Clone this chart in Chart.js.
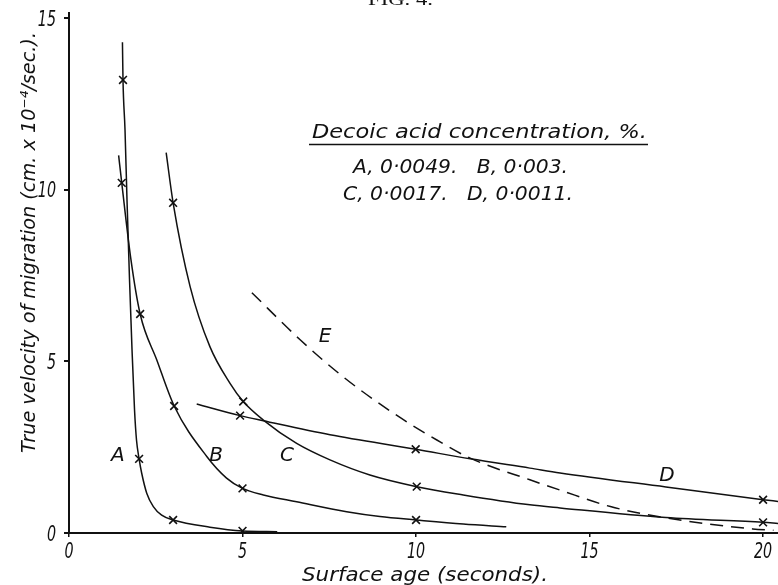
<!DOCTYPE html>
<html>
<head>
<meta charset="utf-8">
<script src="https://cdn.jsdelivr.net/npm/chart.js@4.4.1/dist/chart.umd.min.js"></script>
<style>
  html, body { margin: 0; padding: 0; background: #fff; }
  #miGrafico { display: block; }
</style>
</head>
<body>
<canvas id="miGrafico" width="778" height="585"></canvas>
<script>
// Curvas: edad de superficie (s) -> velocidad (cm x 10^-4/s)
const curveAX = [1.54, 1.556, 1.614, 1.671, 1.744, 1.816, 1.888, 1.945, 2.02, 2.095, 2.24, 2.43, 2.67, 3.0, 4.06, 5.0, 6.0];
const curveAY = [14.3, 13.2, 11.75, 9.71, 7.38, 5.34, 3.59, 2.71, 2.16, 1.74, 1.16, 0.77, 0.52, 0.38, 0.17, 0.06, 0.04];
const curveBX = [1.43, 1.52, 1.78, 2.05, 2.53, 3.03, 3.97, 4.54, 5.0, 5.6, 6.56, 8.0, 8.96, 10.0, 11.36, 12.6];
const curveBY = [11.0, 10.2, 8.0, 6.38, 5.04, 3.7, 2.23, 1.6, 1.3, 1.11, 0.91, 0.62, 0.48, 0.38, 0.26, 0.18];
const curveCX = [2.8, 3.0, 3.49, 4.06, 4.64, 5.02, 5.6, 6.56, 7.52, 8.67, 10.02, 11.36, 13.28, 14.15, 17.2, 20.0, 20.43];
const curveCY = [11.08, 9.62, 7.18, 5.43, 4.36, 3.83, 3.29, 2.61, 2.13, 1.69, 1.35, 1.11, 0.82, 0.73, 0.45, 0.31, 0.28];
const curveDX = [3.68, 4.93, 5.6, 7.52, 9.99, 11.56, 13.28, 14.15, 17.2, 20.0, 20.43];
const curveDY = [3.76, 3.42, 3.27, 2.86, 2.44, 2.16, 1.89, 1.75, 1.34, 0.97, 0.92];
const curveEX = [5.27, 6.66, 7.9, 9.35, 10.6, 11.56, 13.28, 14.15, 15.6, 17.2, 19.7, 20.3];
const curveEY = [7.0, 5.63, 4.55, 3.49, 2.71, 2.18, 1.55, 1.25, 0.77, 0.44, 0.12, 0.08];

// Puntos medidos (cruces)
const markAX = [1.556, 2.02, 3.0, 5.0];
const markAY = [13.2, 2.16, 0.38, 0.06];
const markBX = [1.52, 2.05, 3.03, 5.0, 10.0];
const markBY = [10.2, 6.38, 3.7, 1.3, 0.38];
const markCX = [3.0, 5.02, 10.02, 20.0];
const markCY = [9.62, 3.83, 1.35, 0.31];
const markDX = [4.93, 9.99, 20.0];
const markDY = [3.42, 2.44, 0.97];

const xTicks = [0, 5, 10, 15, 20];
const yTicks = [0, 5, 10, 15];

const curveNames = ['A', 'B', 'C', 'D', 'E'];
const curveNameX = [1.41, 4.24, 6.28, 17.23, 7.38];
const curveNameY = [2.33, 2.33, 2.33, 1.75, 5.8];

const legendTitle = 'Decoic acid concentration, %.';
const legendLines = ['A, 0\u00B70049.   B, 0\u00B7003.', 'C, 0\u00B70017.   D, 0\u00B70011.'];

const xTitle = 'Surface age (seconds).';
const yTitle = 'True velocity of migration (cm. x 10\u207B\u2074/sec.).';
const figTitle = 'FIG. 4.';

const FONT = '"DejaVu Sans", sans-serif';

function zip(xs, ys) {
  return xs.map((x, i) => ({ x: x, y: ys[i] }));
}

function curve(xs, ys, dash) {
  return {
    data: zip(xs, ys),
    showLine: true,
    borderColor: '#111',
    borderWidth: 1.5,
    borderDash: dash || [],
    pointRadius: 0,
    cubicInterpolationMode: 'monotone',
    fill: false
  };
}

function marks(xs, ys) {
  return {
    data: zip(xs, ys),
    showLine: false,
    pointStyle: 'crossRot',
    pointRadius: 5.5,
    pointBorderWidth: 1.6,
    pointBorderColor: '#111',
    pointBackgroundColor: '#111'
  };
}

// texto ajustado a un ancho dado
function fitText(c, txt, x, y, width) {
  const w = c.measureText(txt).width;
  const s = width / w;
  c.save();
  c.translate(x, y);
  c.scale(s, 1);
  c.textAlign = 'left';
  c.fillText(txt, 0, 0);
  c.restore();
}

// texto estrechado (rotulado tecnico)
function narrowText(c, txt, x, y, align) {
  const k = 0.68;
  const w = c.measureText(txt).width * k;
  let x0 = x;
  if (align === 'center') x0 = x - w / 2;
  if (align === 'right') x0 = x - w;
  c.save();
  c.translate(x0, y);
  c.scale(k, 1);
  c.textAlign = 'left';
  c.fillText(txt, 0, 0);
  c.restore();
}

const textos = {
  id: 'textos',
  afterDraw(chart) {
    const c = chart.ctx;
    const sx = chart.scales.x;
    const sy = chart.scales.y;
    c.save();
    c.fillStyle = '#111';
    c.textBaseline = 'alphabetic';

    // numeros de los ejes
    c.font = 'italic 21px ' + FONT;
    xTicks.forEach(v => narrowText(c, String(v), sx.getPixelForValue(v), 558, 'center'));
    yTicks.forEach(v => narrowText(c, String(v), 56, sy.getPixelForValue(v) + 7.5, 'right'));

    // etiquetas de las curvas
    c.font = 'italic 20px ' + FONT;
    c.textAlign = 'center';
    curveNames.forEach((n, i) => {
      c.fillText(n, sx.getPixelForValue(curveNameX[i]), sy.getPixelForValue(curveNameY[i]) + 8);
    });

    // leyenda
    c.font = 'italic 20px ' + FONT;
    fitText(c, legendTitle, 312, 138, 335);
    c.strokeStyle = '#111';
    c.lineWidth = 1.5;
    c.beginPath();
    c.moveTo(309, 144.5);
    c.lineTo(648, 144.5);
    c.stroke();
    fitText(c, legendLines[0], 353, 173, 215);
    fitText(c, legendLines[1], 343, 200, 230);

    // titulos de ejes
    fitText(c, xTitle, 302, 581, 246);
    c.save();
    c.translate(35, 453);
    c.rotate(-Math.PI / 2);
    fitText(c, yTitle, 0, 0, 421);
    c.restore();

    c.font = '17px "Liberation Serif", serif';
    fitText(c, figTitle, 368, 5, 65);
    c.restore();
  }
};

document.addEventListener('DOMContentLoaded', function () {
  const ctx = document.getElementById('miGrafico').getContext('2d');

  new Chart(ctx, {
    type: 'scatter',
    data: {
      datasets: [
        curve(curveAX, curveAY),
        curve(curveBX, curveBY),
        curve(curveCX, curveCY),
        curve(curveDX, curveDY),
        curve(curveEX, curveEY, [13, 8]),
        marks(markAX, markAY),
        marks(markBX, markBY),
        marks(markCX, markCY),
        marks(markDX, markDY)
      ]
    },
    options: {
      responsive: false,
      animation: false,
      devicePixelRatio: 1,
      layout: { autoPadding: false, padding: { top: 13, right: 0, left: 0, bottom: 0 } },
      plugins: {
        legend: { display: false },
        tooltip: { enabled: false },
        title: { display: false }
      },
      scales: {
        x: {
          type: 'linear',
          min: 0,
          max: 20.43,
          afterFit: (s) => { s.height = 52; s.paddingLeft = 0; s.paddingRight = 0; },
          afterBuildTicks: (s) => { s.ticks = xTicks.map(v => ({ value: v })); },
          ticks: { display: false },
          grid: {
            drawOnChartArea: false,
            drawTicks: true,
            tickLength: 4,
            color: '#111',
            lineWidth: 1.5
          },
          border: { display: true, color: '#111', width: 2 }
        },
        y: {
          type: 'linear',
          min: 0,
          max: 15.15,
          afterFit: (s) => { s.width = 69; s.paddingTop = 0; s.paddingBottom = 0; },
          afterBuildTicks: (s) => { s.ticks = yTicks.map(v => ({ value: v })); },
          ticks: { display: false },
          grid: {
            drawOnChartArea: false,
            drawTicks: true,
            tickLength: 5,
            color: '#111',
            lineWidth: 2
          },
          border: { display: true, color: '#111', width: 2 }
        }
      }
    },
    plugins: [textos]
  });
});
</script>
</body>
</html>
